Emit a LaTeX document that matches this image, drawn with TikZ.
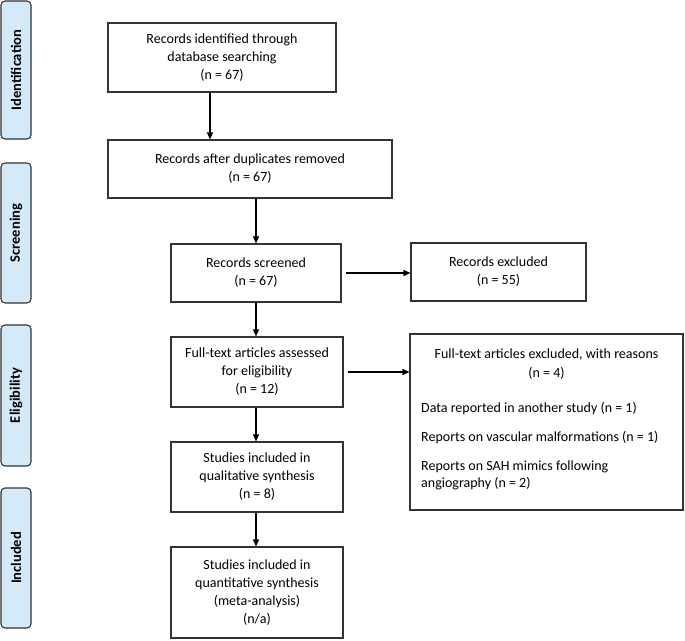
\documentclass[tikz,border=0pt]{standalone}
\usepackage{fontspec}
\setmainfont{Carlito}
\usetikzlibrary{arrows.meta,positioning}
\definecolor{barfill}{HTML}{D4EAF9}
\definecolor{edge}{HTML}{333333}
\begin{document}
\begin{tikzpicture}[x=1pt,y=-1pt,
  box/.style={draw=edge,line width=1.1pt,fill=white,align=center,inner sep=2pt,font=\fontsize{14}{18}\selectfont},
  bar/.style={draw=edge,line width=1.1pt,fill=barfill,rounded corners=4pt,minimum width=30pt},
  barlabel/.style={rotate=90,font=\fontsize{14.5}{17}\selectfont\bfseries},
  txt/.style={inner sep=0pt,font=\fontsize{14}{18}\selectfont},
  arr/.style={line width=1.3pt,-{Triangle[length=7pt,width=6pt]}}]
\useasboundingbox (0,0) rectangle (685,640);
% phase bars
\node[bar,minimum height=138pt] (p1) at (16,70) {};
\node[barlabel] (l1) at (p1.center) {Identification};
\node[bar,minimum height=140pt] (p2) at (16,233) {};
\node[barlabel] (l2) at (p2.center) {Screening};
\node[bar,minimum height=141pt] (p3) at (16,395.5) {};
\node[barlabel] (l3) at (p3.center) {Eligibility};
\node[bar,minimum height=140pt] (p4) at (16,558) {};
\node[barlabel] (l4) at (p4.center) {Included};
% main boxes
\node[box,minimum width=228pt,minimum height=69pt] (b1) at (222,57.5) {Records identified through\\database searching\\(n = 67)};
\node[box,minimum width=284pt,minimum height=58pt] (b2) at (250,169) {Records after duplicates removed\\(n = 67)};
\node[box,minimum width=170pt,minimum height=58pt] (b3) at (256,273) {Records screened\\(n = 67)};
\node[box,minimum width=175pt,minimum height=58pt] (e1) at (498.5,272) {Records excluded\\(n = 55)};
\node[box,minimum width=172pt,minimum height=70pt] (b4) at (257,372) {Full-text articles assessed\\for eligibility\\(n = 12)};
\node[box,minimum width=172pt,minimum height=70pt] (b5) at (257,477) {Studies included in\\qualitative synthesis\\(n = 8)};
\node[box,minimum width=172pt,minimum height=91pt] (b6) at (257,592.5) {Studies included in\\quantitative synthesis\\(meta-analysis)\\(n/a)};
\node[box,minimum width=273pt,minimum height=176pt] (e2) at (546.5,422) {};
\node[txt] (t1) at (546.5,355) {Full-text articles excluded, with reasons};
\node[txt] (t2) at (546.5,373) {(n = 4)};
\node[txt,anchor=west] (t3) at (421,409) {Data reported in another study (n = 1)};
\node[txt,anchor=west] (t4) at (421,438) {Reports on vascular malformations (n = 1)};
\node[txt,anchor=west] (t5) at (421,467) {Reports on SAH mimics following};
\node[txt,anchor=west] (t6) at (421,484) {angiography (n = 2)};
% connectors
\coordinate (x1) at (210,0);
\draw[arr] (b1.south -| x1) -- (b2.north -| x1);
\draw[arr] (b2.south -| b3.north) -- (b3.north);
\draw[arr] ([xshift=4pt]b3.east) -- (e1.west |- b3.east);
\draw[arr] (b3.south) -- (b3.south |- b4.north);
\draw[arr] ([xshift=4pt]b4.east) -- (e2.west |- b4.east);
\draw[arr] (b4.south -| b3.south) -- (b5.north -| b3.south);
\draw[arr] (b5.south -| b3.south) -- (b6.north -| b3.south);
\end{tikzpicture}
\end{document}
